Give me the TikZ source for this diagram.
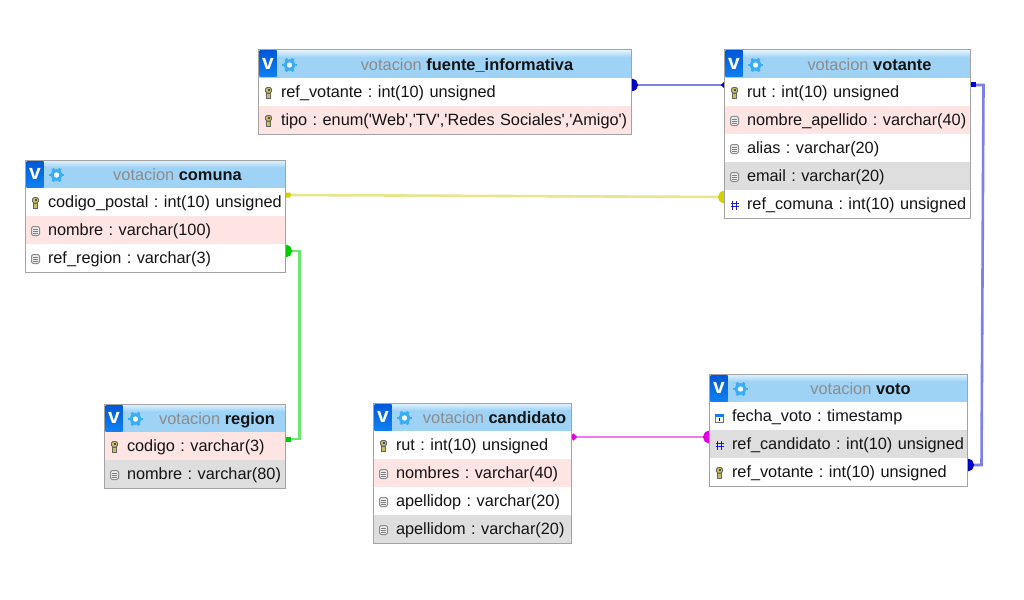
\documentclass[tikz,border=0pt]{standalone}
\usepackage{fontspec}
\newfontfamily\dbfont{Liberation Sans}
\usetikzlibrary{arrows.meta,positioning,fit,backgrounds}
\definecolor{headblue}{HTML}{9FD3F6}
\definecolor{headlight}{HTML}{E4F4FD}
\definecolor{vtop}{HTML}{0058D8}
\definecolor{vbottom}{HTML}{1080F0}
\definecolor{gearblue}{HTML}{3BADF5}
\definecolor{titlegrey}{HTML}{8C8C8C}
\definecolor{rowpink}{HTML}{FFE4E4}
\definecolor{rowgrey}{HTML}{DEDEDE}
\definecolor{framegrey}{HTML}{A3A3A3}
\definecolor{textblack}{HTML}{141414}
\definecolor{keygold}{HTML}{C9BF5A}
\definecolor{hashblue}{HTML}{1A1AD0}
\definecolor{linkblue}{HTML}{7F7FE8}
\definecolor{dotblue}{HTML}{0000C4}
\definecolor{linkyellow}{HTML}{E6E68C}
\definecolor{dotyellow}{HTML}{D2D200}
\definecolor{linkgreen}{HTML}{6CE66C}
\definecolor{dotgreen}{HTML}{00CC00}
\definecolor{linkpink}{HTML}{EE7CEE}
\definecolor{dotpink}{HTML}{E000E0}
\pgfdeclareverticalshading{headshade}{100bp}{color(0bp)=(headblue);color(62bp)=(headblue);color(75bp)=(headlight);color(100bp)=(headlight)}
\newcommand{\headtext}[1]{\hspace*{44pt}\textcolor{titlegrey}{votacion} \textbf{#1}}
\tikzset{
  keyicon/.pic={
    \fill[keygold,draw=black!60,line width=.8pt,rounded corners=1.5pt] (-3,-5.5) rectangle (3,0);
    \fill[keygold,draw=black!60,line width=.8pt] (-2.3,0) rectangle (2.3,5.5);
    \fill[black!70] (-1,-3.8) rectangle (1,-2);
  },
  fieldicon/.pic={
    \draw[black!45,fill=black!8,line width=1pt,rounded corners=1.5pt] (-4,-4.5) rectangle (4,4.5);
    \foreach \liney in {-2,0,2}{\draw[black!50,line width=.8pt] (-2.2,\liney) -- (2.2,\liney);}
  },
  hashicon/.pic={
    \draw[hashblue,line width=1.2pt] (-1.8,-4.5) -- (-1.8,4.5) (1.8,-4.5) -- (1.8,4.5) (-4,-1.8) -- (4,-1.8) (-4,1.8) -- (4,1.8);
  },
  dateicon/.pic={
    \draw[black!55,fill=white,line width=.8pt] (-4,-4) rectangle (4,4);
    \fill[vbottom] (-4,-4) rectangle (4,-1.5);
    \draw[black,line width=1pt] (0,-.5) -- (0,3);
  },
  headicons/.pic={
    \shade[top color=vtop,bottom color=vbottom] (1,1) rectangle (18,27);
    \foreach \toothangle in {0,60,...,300}{\draw[gearblue,line width=2.8pt] (31,15) ++(\toothangle:5) -- ++(\toothangle:2.4);}
    \draw[gearblue,line width=3pt,fill=white] (31,15) circle (4.4);
  },
  vmark/.style={anchor=center,xshift=9.5pt,yshift=.5pt,inner sep=0pt,text=white,font=\dbfont\fontsize{21}{21}\selectfont\bfseries},
  headbox/.style={
    shading=headshade,inner sep=0pt,outer sep=0pt,minimum height=28pt,align=center,
    text height=14pt,text depth=1pt,
    font=\dbfont\fontsize{16.4}{18}\selectfont\frenchspacing,text=textblack,
    path picture={\pic at (path picture bounding box.north west) {headicons};},
    label={[vmark]west:v}
  },
  rowbox/.style={
    inner ysep=0pt,inner xsep=1pt,outer sep=0pt,minimum height=28pt,fill=white,align=left,
    text height=14pt,text depth=3pt,
    font=\dbfont\fontsize{16.3}{18}\selectfont\frenchspacing,text=textblack,
    execute at begin node={\hspace*{21.5pt}}
  },
  keyrow/.style={rowbox,path picture={\pic at ([xshift=10pt,yshift=-1pt]path picture bounding box.west) {keyicon};}},
  fieldrow/.style={rowbox,path picture={\pic at ([xshift=10pt,yshift=-1pt]path picture bounding box.west) {fieldicon};}},
  hashrow/.style={rowbox,path picture={\pic at ([xshift=10pt,yshift=-1pt]path picture bounding box.west) {hashicon};}},
  daterow/.style={rowbox,path picture={\pic at ([xshift=10pt,yshift=-2pt]path picture bounding box.west) {dateicon};}},
  tablewidth/.style={headbox/.append style={minimum width=#1pt},rowbox/.append style={text width=#1pt-2pt}},
  tableframe/.style={draw=framegrey,line width=1pt,inner sep=0pt,outer sep=0pt},
  relation/.style={line width=2.6pt,draw=#1}
}
\begin{document}
\begin{tikzpicture}[x=1pt,y=-1pt,node distance=0pt]
\useasboundingbox (0,0) rectangle (1024,599);

\begin{scope}[shift={(-.5,0)}]
\begin{scope}[tablewidth=373]
\node[headbox,anchor=north west] (fuente) at (259,50) {\headtext{fuente\_informativa}};
\node[keyrow,below=of fuente] (fuente-ref) {ref\_votante : int(10) unsigned};
\node[keyrow,fill=rowpink,below=of fuente-ref] (fuente-tipo) {tipo : enum('Web','TV','Redes Sociales','Amigo')};
\node[tableframe,fit=(fuente)(fuente-tipo)] (fuente-frame) {};
\end{scope}

\begin{scope}[tablewidth=246]
\node[headbox,anchor=north west] (votante) at (725,50) {\headtext{votante}};
\node[keyrow,below=of votante] (votante-rut) {rut : int(10) unsigned};
\node[fieldrow,fill=rowpink,below=of votante-rut] (votante-nombre) {nombre\_apellido : varchar(40)};
\node[fieldrow,below=of votante-nombre] (votante-alias) {alias : varchar(20)};
\node[fieldrow,fill=rowgrey,below=of votante-alias] (votante-email) {email : varchar(20)};
\node[hashrow,below=of votante-email] (votante-comuna) {ref\_comuna : int(10) unsigned};
\node[tableframe,fit=(votante)(votante-comuna)] (votante-frame) {};
\end{scope}

\begin{scope}[tablewidth=260]
\node[headbox,anchor=north west] (comuna) at (26,160) {\headtext{comuna}};
\node[keyrow,below=of comuna] (comuna-codigo) {codigo\_postal : int(10) unsigned};
\node[fieldrow,fill=rowpink,below=of comuna-codigo] (comuna-nombre) {nombre : varchar(100)};
\node[fieldrow,below=of comuna-nombre] (comuna-region) {ref\_region : varchar(3)};
\node[tableframe,fit=(comuna)(comuna-region)] (comuna-frame) {};
\end{scope}

\begin{scope}[tablewidth=181]
\node[headbox,anchor=north west] (region) at (105,404) {\headtext{region}};
\node[keyrow,fill=rowpink,below=of region] (region-codigo) {codigo : varchar(3)};
\node[fieldrow,fill=rowgrey,below=of region-codigo] (region-nombre) {nombre : varchar(80)};
\node[tableframe,fit=(region)(region-nombre)] (region-frame) {};
\end{scope}

\begin{scope}[tablewidth=198]
\node[headbox,anchor=north west] (candidato) at (374,403) {\headtext{candidato}};
\node[keyrow,below=of candidato] (candidato-rut) {rut : int(10) unsigned};
\node[fieldrow,fill=rowpink,below=of candidato-rut] (candidato-nombres) {nombres : varchar(40)};
\node[fieldrow,below=of candidato-nombres] (candidato-apellidop) {apellidop : varchar(20)};
\node[fieldrow,fill=rowgrey,below=of candidato-apellidop] (candidato-apellidom) {apellidom : varchar(20)};
\node[tableframe,fit=(candidato)(candidato-apellidom)] (candidato-frame) {};
\end{scope}

\begin{scope}[tablewidth=258]
\node[headbox,anchor=north west] (voto) at (710,374) {\headtext{voto}};
\node[daterow,below=of voto] (voto-fecha) {fecha\_voto : timestamp};
\node[hashrow,fill=rowgrey,below=of voto-fecha] (voto-candidato) {ref\_candidato : int(10) unsigned};
\node[keyrow,below=of voto-candidato] (voto-votante) {ref\_votante : int(10) unsigned};
\node[tableframe,fit=(voto)(voto-votante)] (voto-frame) {};
\end{scope}
\end{scope}

% links start 7pt above the row centre
\coordinate (link-fuente) at ([yshift=7pt]fuente-ref.east);
\coordinate (link-votanteA) at ([yshift=7pt]votante-rut.west);
\coordinate (link-votanteB) at ([yshift=7pt]votante-rut.east);
\coordinate (link-votanteC) at ([yshift=7pt]votante-comuna.west);
\coordinate (link-comunaA) at ([yshift=7pt]comuna-codigo.east);
\coordinate (link-comunaB) at ([yshift=7pt]comuna-region.east);
\coordinate (link-region) at ([yshift=7pt]region-codigo.east);
\coordinate (link-candidato) at ([yshift=8pt]candidato-rut.east);
\coordinate (link-votoA) at ([yshift=7pt]voto-candidato.west);
\coordinate (link-votoB) at ([yshift=7pt]voto-votante.east);

\begin{scope}[on background layer]
\fill[white] (0,0) rectangle (1024,599);
\draw[relation=linkblue,{Circle[length=13pt,color=dotblue]}-{Circle[length=6pt,color=dotblue]},shorten <=-6.5pt,shorten >=-3pt] (link-fuente) -- (link-votanteA);
\draw[relation=linkblue,{Square[length=5pt,color=dotblue]}-{Circle[length=13pt,color=dotblue]},shorten >=-6.5pt] (link-votanteB) -- ++(13,0) -- ++(-2,380) -- (link-votoB);
\draw[relation=linkyellow,{Square[length=5pt,color=dotyellow]}-{Circle[length=13pt,color=dotyellow]},shorten >=-6.5pt] (link-comunaA) -- (link-votanteC);
\draw[relation=linkgreen,{Circle[length=13pt,color=dotgreen]}-{Square[length=5pt,color=dotgreen]},shorten <=-6.5pt] (link-comunaB) -- ++(14,0) |- (link-region);
\draw[relation=linkpink,{Circle[length=6pt,color=dotpink]}-{Circle[length=13pt,color=dotpink]},shorten <=-1pt,shorten >=-6.5pt] (link-candidato) -- (link-votoA);
\end{scope}
\end{tikzpicture}
\end{document}
